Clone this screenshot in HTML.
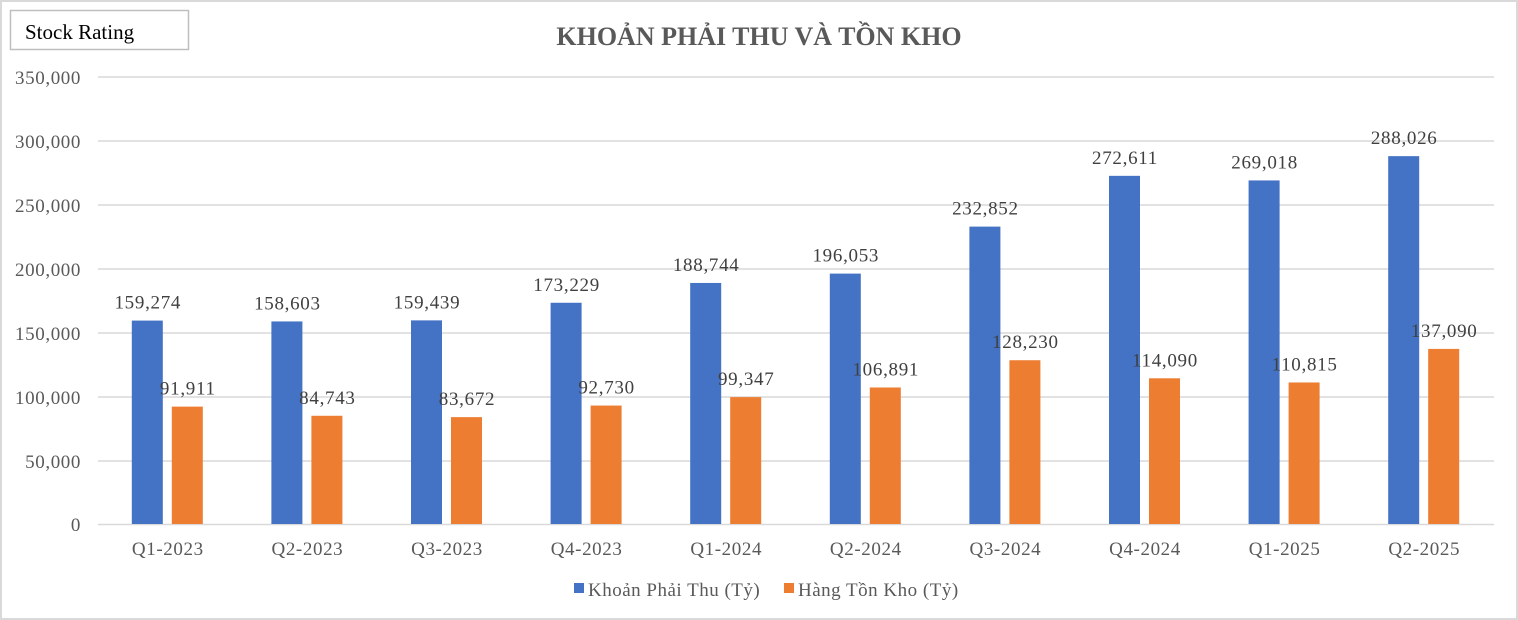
<!DOCTYPE html>
<html><head><meta charset="utf-8"><style>
html,body{margin:0;padding:0;background:#fff}
svg{display:block;font-family:"Liberation Serif","DejaVu Serif",serif}
</style></head><body>
<svg width="1518" height="620" xmlns="http://www.w3.org/2000/svg">
<rect x="1" y="1" width="1516" height="618" fill="#fff" stroke="#d9d9d9" stroke-width="2"/>
<rect x="10.5" y="10.5" width="178" height="39" fill="#fff" stroke="#bfbfbf" stroke-width="1.5"/>
<text x="25" y="39" font-size="21" fill="#000">Stock Rating</text>
<text x="759" y="45" font-size="26" font-weight="bold" fill="#595959" text-anchor="middle">KHOẢN PHẢI THU VÀ TỒN KHO</text>
<g stroke="#d9d9d9" stroke-width="1.5">
<line x1="98" x2="1494" y1="77" y2="77"/><line x1="98" x2="1494" y1="141" y2="141"/>
<line x1="98" x2="1494" y1="205" y2="205"/><line x1="98" x2="1494" y1="269" y2="269"/>
<line x1="98" x2="1494" y1="333" y2="333"/><line x1="98" x2="1494" y1="397" y2="397"/>
<line x1="98" x2="1494" y1="461" y2="461"/><line x1="98" x2="1494" y1="524.5" y2="524.5"/>
</g>
<g font-size="19" letter-spacing="0.6" fill="#595959" text-anchor="end">
<text x="81" y="84">350,000</text><text x="81" y="148">300,000</text>
<text x="81" y="212">250,000</text><text x="81" y="276">200,000</text>
<text x="81" y="340">150,000</text><text x="81" y="404">100,000</text>
<text x="81" y="468">50,000</text><text x="81" y="531">0</text>
</g>
<g id="bars"></g>
<g font-size="19" letter-spacing="0.6" fill="#595959" text-anchor="middle" id="xl"></g>
<rect x="574" y="583" width="10" height="10" fill="#4472c4"/>
<text x="588" y="596" font-size="19" letter-spacing="0.5" fill="#595959">Khoản Phải Thu (Tỷ)</text>
<rect x="784" y="583" width="10" height="10" fill="#ed7d31"/>
<text x="798" y="596" font-size="19" letter-spacing="0.5" fill="#595959">Hàng Tồn Kho (Tỷ)</text>
<script>
var A=[159274,158603,159439,173229,188744,196053,232852,272611,269018,288026];
var B=[91911,84743,83672,92730,99347,106891,128230,114090,110815,137090];
var L=["Q1-2023","Q2-2023","Q3-2023","Q4-2023","Q1-2024","Q2-2024","Q3-2024","Q4-2024","Q1-2025","Q2-2025"];
var ns="http://www.w3.org/2000/svg",g=document.getElementById("bars"),xl=document.getElementById("xl");
function y(v){return 524-v/350000*447;}
function f(v){return v.toLocaleString("en-US");}
function el(t,a,p,txt){var e=document.createElementNS(ns,t);for(var k in a)e.setAttribute(k,a[k]);if(txt)e.textContent=txt;p.appendChild(e);}
for(var i=0;i<10;i++){var c=98+139.6*(i+0.5);
el("rect",{x:c-36,y:y(A[i]),width:31,height:524-y(A[i]),fill:"#4472c4"},g);
el("rect",{x:c+4,y:y(B[i]),width:31,height:524-y(B[i]),fill:"#ed7d31"},g);
el("text",{x:c-20,y:y(A[i])-12,"font-size":19,"letter-spacing":0.7,fill:"#404040","text-anchor":"middle"},g,f(A[i]));
el("text",{x:c+20,y:y(B[i])-12,"font-size":19,"letter-spacing":0.7,fill:"#404040","text-anchor":"middle"},g,f(B[i]));
el("text",{x:c,y:555},xl,L[i]);}
</script>
</svg>
</body></html>
